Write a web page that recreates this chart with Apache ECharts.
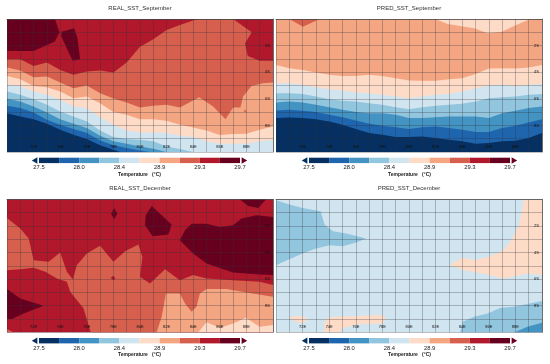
<!DOCTYPE html>
<html><head><meta charset="utf-8">
<style>html,body{margin:0;padding:0;background:#fff}#c{width:550px;height:364px;filter:blur(0.4px)}</style>
<script src="https://cdn.jsdelivr.net/npm/echarts@6/dist/echarts.min.js"></script>
</head><body><div id="c"></div>
<script>
// colour classes, coldest to warmest
const classColors=['#053061','#1f65ad','#4393c3','#92c5de','#d1e5f0','#fddbc7','#f4a582','#d6604d','#b2182b','#67001f'];
const barTicks=['27.5','28.0','28.4','28.9','29.3','29.7'];
const lonTicks=['72E','74E','76E','78E','80E','82E','84E','86E','88E'];
const latTicks={'-2':'2S','-4':'4S','-6':'6S','-8':'8S'};

// ---- contour boundaries, [lon, lat] ----
// REAL September
const rs7=[[70,-3.03],[71,-3.03],[72,-3.53],[73,-3.28],[74,-3.83],[75,-4.2],[76,-3.95],[77,-3.88],[78,-4.03],[79,-3.28],[80,-2.08],[81,-1.53],[82,-.83],[83,-.45],[84.1,-.08],[84.5,0],[87,0],[88.4,-1],[87.9,-1.83],[88.1,-2.78],[89,-3.13],[90,-3.13]];
const rs9a=[[70,0],[73.6,0],[73.95,-1],[73.6,-1.7],[72,-2.4],[70,-2.4]];
const rs9b=[[74.1,-.95],[75.05,-.7],[75.3,-1.45],[75.5,-3.03],[74.95,-3.13],[74.6,-2.45],[74.1,-1.33]];
const rs6=[[70,-3.65],[71,-3.88],[72,-4.38],[73,-4.33],[74,-4.78],[75,-5.2],[76,-5],[77,-5.58],[78,-5.98],[79,-6.28],[80,-6.65],[81,-6.53],[82,-6.45],[83,-6.65],[84.45,-5.88],[85.5,-6.58],[86.43,-7.53],[87,-6.65],[87.55,-6.65],[87.75,-5.83],[88.38,-5.03],[89.25,-4.83],[90,-4.78]];
const rs5=[[70,-4.28],[71,-4.53],[72,-5.03],[73,-5.13],[74,-5.45],[75,-5.95],[76,-5.83],[77,-6.33],[78,-7],[79,-7.2],[80,-7.53],[81,-7.53],[82,-7.65],[83,-7.95],[84,-8.15],[85,-8.38],[86,-8.73],[87,-8.65],[88,-8.63],[89,-8.33],[90,-8.08]];
const rs4=[[70,-4.95],[71,-5.03],[72,-5.45],[73,-5.7],[74,-6.08],[75,-6.58],[76,-6.7],[77,-7.38],[78,-7.95],[79,-8.38],[80,-8.53],[81,-8.53],[82,-8.58],[83,-8.78],[84,-8.88],[85,-9.2],[86,-9.38],[87,-9.38],[88,-9.38],[89,-9.2],[90,-9.08]];
const rs3=[[70,-5.45],[71,-5.7],[72,-6.03],[73,-6.45],[74,-6.95],[75,-7.33],[76,-7.7],[77,-8.38],[78,-8.88],[79,-9.03],[80,-9.08],[81,-9.2],[82,-9.58],[83,-9.78],[84,-10]];
const rs2=[[70,-6],[71,-6.2],[72,-6.58],[73,-7.03],[74,-7.53],[75,-7.88],[76,-8.2],[77,-8.78],[78,-9.2],[79,-9.38],[80,-9.58],[81,-9.75],[82,-10]];
const rs1=[[70,-6.53],[71,-6.7],[72,-7.03],[73,-7.58],[74,-7.95],[75,-8.28],[76,-8.58],[77,-9.13],[78,-9.5],[79,-9.7],[80,-9.88],[80.75,-10]];
const rs0=[[70,-7.08],[71,-7.33],[72,-7.53],[73,-7.88],[74,-8.33],[75,-8.7],[76,-9.03],[77,-9.5],[78,-9.83],[78.5,-10]];
const rsSpot=[[87.8,-6.93],[87.9,-6.83],[88,-6.93],[87.9,-7.03]];
// PRED September
const ps7=[[71,0],[72.03,-.58],[73.28,0]];
const ps5top=[[81.95,0],[82.9,-.38],[84.9,-.7],[85.9,-1.08],[86.95,-.98],[87.9,-.53],[88.95,-.08],[89.15,0]];
const ps5=[[70,-3.45],[71,-3.7],[72,-3.83],[73,-4.03],[74,-4.2],[75,-4.28],[76,-4.28],[77,-4.2],[78,-4.28],[79,-4.45],[80,-4.63],[81,-4.65],[82,-4.65],[83,-4.53],[84,-4.45],[85,-4.13],[86,-3.73],[87,-3.7],[88,-3.73],[89,-3.65],[90,-3.45]];
const ps4=[[70,-4.83],[71,-4.83],[72,-4.95],[73,-5.13],[74,-5.28],[75,-5.38],[76,-5.53],[77,-5.58],[78,-5.7],[79,-5.83],[80,-5.95],[81,-5.83],[82,-5.7],[83,-5.63],[84,-5.45],[85,-5.2],[86,-5],[87,-4.95],[88,-5.03],[89,-4.95],[90,-4.88]];
const ps3=[[70,-5.58],[71,-5.58],[72,-5.63],[73,-5.83],[74,-6.03],[75,-6.15],[76,-6.2],[77,-6.33],[78,-6.45],[79,-6.63],[80,-6.78],[81,-6.63],[82,-6.53],[83,-6.45],[84,-6.38],[85,-6.2],[86,-5.95],[87,-5.88],[88,-5.83],[89,-5.7],[90,-5.63]];
const ps2=[[70,-6.28],[71,-6.2],[72,-6.28],[73,-6.45],[74,-6.63],[75,-6.83],[76,-7],[77,-7.08],[78,-7.08],[79,-7.2],[80,-7.45],[81,-7.45],[82,-7.38],[83,-7.33],[84,-7.33],[85,-7.33],[86,-7.45],[87,-7.08],[88,-6.9],[89,-6.7],[90,-6.58]];
const ps1=[[70,-6.88],[71,-6.83],[72,-6.9],[73,-7],[74,-7.2],[75,-7.38],[76,-7.63],[77,-7.88],[78,-8.03],[79,-8.13],[80,-8.28],[81,-8.13],[82,-8.08],[83,-8.2],[84,-8.33],[85,-8.5],[86,-8.5],[87,-8.2],[88,-8.03],[89,-7.78],[90,-7.53]];
const ps0=[[70,-7.45],[71,-7.4],[72,-7.45],[73,-7.53],[74,-7.7],[75,-7.95],[76,-8.28],[77,-8.58],[78,-8.7],[79,-8.88],[80,-8.88],[81,-8.83],[82,-8.95],[83,-9.08],[84,-9.2],[85,-9.38],[86,-9.33],[87,-9.2],[88,-9.15],[89,-8.95],[90,-8.58]];
// REAL December
const rd7=[[70,-1.4],[71,-2.2],[71.63,-2.95],[72,-4.58],[73.13,-4.7],[74,-4],[74.5,-5.45],[74.95,-6.03],[75.25,-4.95],[76,-4.08],[77,-3.5],[78,-4.7],[78.88,-3.9],[79.88,-3.4],[80.18,-4.33],[80,-5.83],[80.75,-6.33],[81.88,-5.25],[83,-6.08],[84,-5.7],[85,-5.95],[87,-6.08],[89,-6.2],[90,-6.45],[90,-10],[76.3,-10],[76.2,-9.7],[75.75,-8.2],[74.75,-6.95],[74.5,-6.2],[73.75,-5.95],[72.88,-5.45],[72,-5.15],[71,-5.25],[70,-5.33]];
const rd7corner=[[70,-9.75],[70.5,-10],[70,-10]];
const rd9top=[[87.5,0],[88.13,-.5],[88.88,-.65],[89.5,0]];
const rd9diamond=[[78.05,-.65],[78.3,-1.08],[78.05,-1.5],[77.83,-1.08]];
const rd9mid=[[80.88,-.5],[82.38,-1.9],[82.13,-2.65],[80.95,-2.78],[80.38,-1.95],[80.43,-1.2]];
const rd9big=[[83.88,-1.83],[85,-1.83],[86,-2.08],[87,-1.95],[87.63,-1.45],[88.75,-1.2],[90,-1.33],[90,-5.7],[89,-5.65],[87,-5.5],[85,-4.83],[84,-4.08],[83,-3.08],[83.38,-2.33]];
const rd9left=[[70,-6.75],[71,-7.45],[72.75,-8],[71.25,-8.58],[70.38,-9],[70,-9]];
const rd8spot=[[77.8,-5.9],[78,-5.75],[78.15,-5.95],[78,-6.1]];
const rd6=[[81.95,-7.08],[83,-7.08],[83.38,-7.83],[83.88,-8.45],[84.25,-8.08],[84.5,-7.08],[85,-6.75],[86.5,-6.75],[88,-7],[90,-7.33],[90,-10],[81.25,-10],[81.63,-8.83]];
const rd5=[[84.38,-10],[85,-9.25],[86,-9.65],[87,-9.33],[87.95,-8.9],[89,-9.58],[90,-9.45],[90,-10]];
// PRED December
const pd3left=[[70,-.08],[71,-.4],[72,-.65],[73.35,-.9],[73.65,-1.9],[74.28,-2.4],[75.28,-2.58],[76.78,-2.95],[76.03,-3.25],[75.03,-3.53],[74.03,-3.45],[73,-3.7],[72,-4.08],[71,-4.5],[70,-4.95]];
const pd5right=[[88.65,0],[88.28,-1.95],[87.53,-3.33],[87.03,-3.88],[85.9,-4.33],[84.9,-4.58],[84.03,-4.38],[83.03,-4.95],[84.15,-5.33],[85.9,-5.65],[87.03,-5.95],[88.4,-5.7],[88.9,-5.58],[90,-5.7],[90,0]];
const pd5small=[[70.9,-8.9],[71.53,-8.75],[72.2,-8.83],[72.33,-9.08],[72.03,-9.33],[71.53,-9.2]];
const pd5long=[[73.78,-8.95],[74.28,-8.83],[76.15,-8.78],[77.9,-8.7],[78.28,-8.95],[78.03,-9.33],[76.15,-9.4],[75.03,-9.7],[74.85,-10],[73.65,-10],[73.6,-9.45]];
const pd3corner=[[83.85,-10],[84.03,-9.2],[84.9,-8.83],[85.9,-8.58],[86.9,-8.15],[87.9,-8.08],[88.9,-7.88],[90,-7.65],[90,-10]];
const pd2corner=[[87.95,-10],[88.9,-9.58],[90,-9.28],[90,-10]];

const full=[[70,0],[90,0],[90,-10],[70,-10]];
const down=p=>p.concat([[90,-10],[70,-10]]);

const panels=[
 {title:'REAL_SST_September',left:7,top:19,barL:39,barT:157.7,layers:[[8,full],[7,down(rs7)],[9,rs9a],[9,rs9b],[6,down(rs6)],[7,rsSpot],[5,down(rs5)],[4,down(rs4)],[3,down(rs3)],[2,down(rs2)],[1,down(rs1)],[0,down(rs0)]]},
 {title:'PRED_SST_September',left:276,top:19,barL:309,barT:157.7,layers:[[6,full],[7,ps7],[5,ps5top],[5,down(ps5)],[4,down(ps4)],[3,down(ps3)],[2,down(ps2)],[1,down(ps1)],[0,down(ps0)]]},
 {title:'REAL_SST_December',left:7,top:199.3,barL:39,barT:338,layers:[[8,full],[7,rd7],[7,rd7corner],[9,rd9top],[9,rd9diamond],[9,rd9mid],[9,rd9big],[9,rd9left],[8,rd8spot],[6,rd6],[5,rd5]]},
 {title:'PRED_SST_December',left:276,top:199.3,barL:309,barT:338,layers:[[4,full],[3,pd3left],[5,pd5right],[5,pd5small],[5,pd5long],[3,pd3corner],[2,pd2corner]]}
];

const grid=[],xAxis=[],yAxis=[],series=[],title=[];
const poly=(g,pts,color,z)=>series.push({type:'custom',coordinateSystem:'cartesian2d',xAxisIndex:g,yAxisIndex:g,silent:true,animation:false,z:z,
  data:pts,encode:{x:0,y:1},
  renderItem(params,api){
    if(params.dataIndex!==0)return null;
    return {type:'polygon',shape:{points:pts.map(p=>api.coord(p))},style:{fill:color}};
  }});

panels.forEach((p,i)=>{
  const g=grid.length;
  grid.push({left:p.left,top:p.top,width:266,height:133,containLabel:false});
  const lineStyle={color:'rgba(50,50,60,0.3)',width:1};
  xAxis.push({gridIndex:g,type:'value',min:70,max:90,interval:1,z:10,position:'bottom',
    axisLine:{show:true,lineStyle:{color:'rgba(70,70,70,.7)',width:1}},axisTick:{show:false},splitLine:{show:true,lineStyle},
    axisLabel:{show:true,inside:true,margin:3,fontSize:4,fontFamily:'Liberation Sans',color:'#111',showMinLabel:false,showMaxLabel:false,
      formatter:v=>lonTicks.find(t=>t===v+'E')||''}});
  yAxis.push({gridIndex:g,type:'value',min:-10,max:0,interval:1,z:10,position:'right',
    axisLine:{show:true,lineStyle:{color:'rgba(70,70,70,.7)',width:1}},axisTick:{show:false},splitLine:{show:true,lineStyle},
    axisLabel:{show:true,inside:true,margin:3,fontSize:4,fontFamily:'Liberation Sans',color:'#111',
      formatter:v=>latTicks[v]||''}});
  p.layers.forEach((l,k)=>poly(g,l[1],classColors[l[0]],2));

  // colour bar
  const b=grid.length;
  grid.push({left:p.barL,top:p.barT,width:201,height:5.4});
  xAxis.push({gridIndex:b,type:'value',min:0,max:10,interval:2,z:10,
    axisLine:{show:false},axisTick:{show:false},splitLine:{show:false},
    axisLabel:{show:true,margin:1.5,fontSize:5.8,fontFamily:'Liberation Sans',color:'#222',
      formatter:v=>barTicks[v/2]}});
  yAxis.push({gridIndex:b,type:'value',min:0,max:1,show:false});
  classColors.forEach((c,k)=>poly(b,[[k,0],[k+1,0],[k+1,1],[k,1]],c,2));
  poly(b,[[-.08,-.1],[-.08,1.1],[-.36,.5]],classColors[0],2);
  poly(b,[[10.08,-.1],[10.08,1.1],[10.36,.5]],classColors[9],2);

  title.push({text:p.title,left:p.left+133,top:p.top-13.5,textAlign:'center',padding:0,
    textStyle:{fontSize:6,fontWeight:'normal',fontFamily:'Liberation Sans',color:'#333'}});
  title.push({text:'Temperature   (°C)',left:p.barL+100.5,top:p.barT+14,textAlign:'center',padding:0,
    textStyle:{fontSize:5,fontWeight:'bold',fontFamily:'Liberation Sans',color:'#222'}});
});

const chart=echarts.init(document.getElementById('c'),null,{renderer:'canvas',width:550,height:364});
chart.setOption({animation:false,backgroundColor:'#fff',title,grid,xAxis,yAxis,series,tooltip:{show:false}});
</script></body></html>
